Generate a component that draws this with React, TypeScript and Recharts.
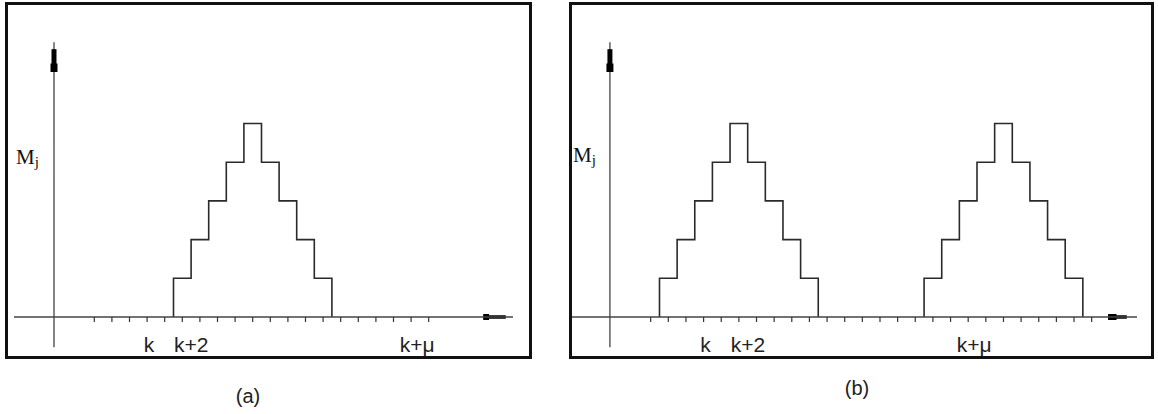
import { Line, LineChart, ReferenceLine, XAxis, YAxis } from 'recharts'

// staircase heights of M_j, one per slot
const STAIR = [1, 2, 3, 4, 5, 4, 3, 2, 1]
// left edge of each staircase, in slot units
const PULSES_A = [4.5]
const PULSES_B = [0.5, 15.5]
// slot ticks along the time axis
const TICKS_A = Array.from({ length: 20 }, (_, i) => i)
const TICKS_B = Array.from({ length: 26 }, (_, i) => i)
const TICK_LABELS: Record<number, string> = { 3: 'k', 5: 'k+2', 18: 'k+μ' }

const LABEL_NUDGE: Record<string, number> = { k: 2, 'k+2': 9, 'k+μ': 6 }
const INK = '#2a2a2a'
const SANS = '"Liberation Sans", Arial, sans-serif'
const SERIF = '"Liberation Serif", "Times New Roman", serif'

const stairData = (start: number) => {
	const pts = [{ x: start, y: 0 }]
	STAIR.forEach((v, i) => pts.push({ x: start + i, y: v }))
	pts.push({ x: start + STAIR.length, y: 0 })
	return pts
}

const StepTick = (props: any) => {
	const { x, y, payload } = props
	const label = TICK_LABELS[payload.value]
	if (!label) return <g />
	return (
		<text x={x + LABEL_NUDGE[label]} y={y} dy='0.71em' textAnchor='middle' fontSize={21} fontFamily={SANS} fill='#222'>
			{label}
		</text>
	)
}

interface IPanel {
	width: number
	margin: { top: number; right: number; bottom: number; left: number }
	xDomain: [number, number]
	ticks: number[]
	pulses: number[]
	yAxisAt: number
	arrow: [number, number, number]
}

const Y_TOP = 7.08

const Panel: React.FC<IPanel> = ({ width, margin, xDomain, ticks, pulses, yAxisAt, arrow }) => (
	<LineChart width={width} height={414} margin={margin}>
		<XAxis
			type='number'
			dataKey='x'
			domain={xDomain}
			ticks={ticks}
			allowDataOverflow
			interval={0}
			height={40}
			tickSize={5}
			tickMargin={15}
			axisLine={{ stroke: '#444', strokeWidth: 1.3 }}
			tickLine={{ stroke: '#333', strokeWidth: 1.2 }}
			tick={<StepTick />}
		/>
		<YAxis hide type='number' domain={[0, Y_TOP]} allowDataOverflow />
		<ReferenceLine
			segment={[
				{ x: yAxisAt, y: -0.78 },
				{ x: yAxisAt, y: Y_TOP + 0.02 },
			]}
			ifOverflow='visible'
			stroke='#444'
			strokeWidth={1.3}
		/>
		<ReferenceLine
			segment={[
				{ x: yAxisAt, y: 6.33 },
				{ x: yAxisAt, y: 6.92 },
			]}
			ifOverflow='visible'
			stroke='#000'
			strokeWidth={5}
		/>
		<ReferenceLine
			segment={[
				{ x: yAxisAt, y: 6.33 },
				{ x: yAxisAt, y: 6.55 },
			]}
			ifOverflow='visible'
			stroke='#000'
			strokeWidth={7}
		/>
		<ReferenceLine
			segment={[
				{ x: arrow[0], y: 0 },
				{ x: arrow[2], y: 0 },
			]}
			ifOverflow='visible'
			stroke='#000'
			strokeWidth={3.5}
		/>
		<ReferenceLine
			segment={[
				{ x: arrow[0], y: 0 },
				{ x: arrow[1], y: 0 },
			]}
			ifOverflow='visible'
			stroke='#000'
			strokeWidth={6}
		/>
		{pulses.map((p) => (
			<Line
				key={p}
				data={stairData(p)}
				dataKey='y'
				type='stepAfter'
				stroke={INK}
				strokeWidth={1.6}
				dot={false}
				activeDot={false}
				isAnimationActive={false}
			/>
		))}
	</LineChart>
)

const frame = (left: number, right: number): React.CSSProperties => ({
	position: 'absolute',
	left,
	top: 2,
	width: right - left,
	height: 357,
	border: '3px solid #111',
	boxSizing: 'border-box',
})

const App = () => (
	<div style={{ position: 'absolute', left: 0, top: 0, width: 1158, height: 414, background: '#fff', overflow: 'hidden' }}>
		<div style={frame(5, 532)} />
		<div style={frame(569, 1154)} />
		<div style={{ position: 'absolute', left: 0, top: 0 }}>
			<Panel
				width={560}
				margin={{ top: 43, right: 47, bottom: 57, left: 14 }}
				xDomain={[-4.5625, 23.79]}
				ticks={TICKS_A}
				pulses={PULSES_A}
				yAxisAt={-2.29}
				arrow={[22.1, 22.43, 23.38]}
			/>
		</div>
		<div style={{ position: 'absolute', left: 560, top: 0 }}>
			<Panel
				width={598}
				margin={{ top: 43, right: 21, bottom: 57, left: 12 }}
				xDomain={[-4.46, 27.57]}
				ticks={TICKS_B}
				pulses={PULSES_B}
				yAxisAt={-2.31}
				arrow={[25.93, 26.41, 26.99]}
			/>
		</div>
		<svg width={1158} height={414} style={{ position: 'absolute', left: 0, top: 0, pointerEvents: 'none' }}>
			<text x={16} y={164} fontFamily={SERIF} fontSize={21} fill='#111'>
				M<tspan fontSize={15} dy={3}>j</tspan>
			</text>
			<text x={573} y={162} fontFamily={SERIF} fontSize={21} fill='#111'>
				M<tspan fontSize={15} dy={3}>j</tspan>
			</text>
			<text x={248} y={403} textAnchor='middle' fontFamily={SANS} fontSize={20} fill='#222'>
				(a)
			</text>
			<text x={857} y={395} textAnchor='middle' fontFamily={SANS} fontSize={20} fill='#222'>
				(b)
			</text>
		</svg>
	</div>
)

export default App
